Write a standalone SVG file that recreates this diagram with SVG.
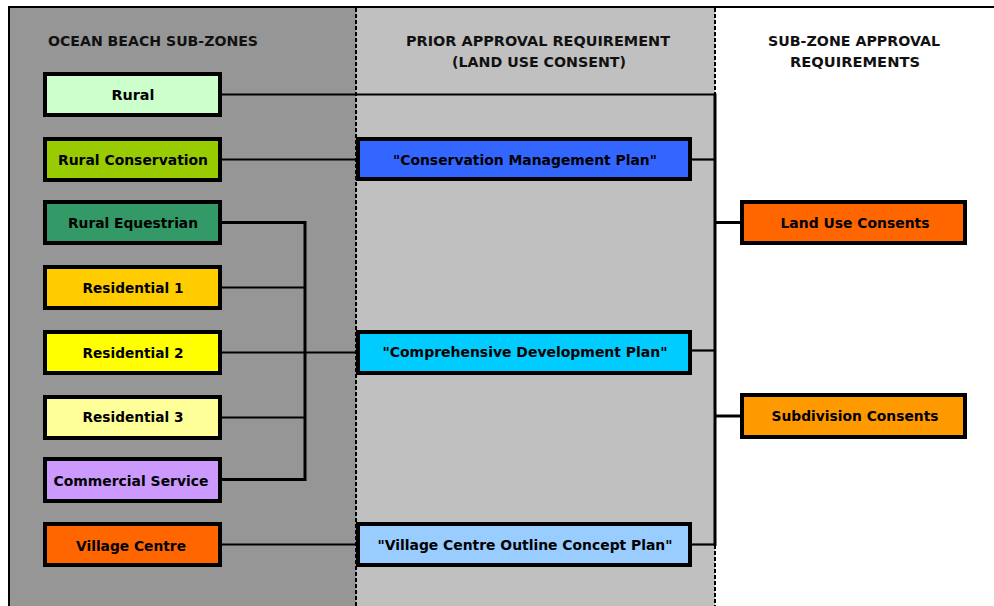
<svg xmlns="http://www.w3.org/2000/svg" width="994" height="606" viewBox="0 0 994 606">
  <style>
    .lbl { font-family: "DejaVu Sans", Verdana, sans-serif; font-weight: bold; font-size: 14.5px; fill: #000; text-anchor: middle; }
    .hdr { font-family: "DejaVu Sans", Verdana, sans-serif; font-weight: bold; font-size: 14px; fill: #111; text-anchor: middle; }
    .box { stroke: #000; stroke-width: 4; }
    .wire { fill: none; stroke: #000; stroke-width: 2.2; }
    .bus { fill: none; stroke: #000; stroke-width: 3; }
    .sep { fill: none; stroke: #000; stroke-width: 2; stroke-dasharray: 4 2; }
  </style>

  <!-- column backgrounds -->
  <rect x="0" y="0" width="994" height="606" fill="#ffffff"/>
  <rect x="9" y="7" width="347" height="599" fill="#969696"/>
  <rect x="356" y="7" width="359" height="599" fill="#c0c0c0"/>

  <!-- frame and column separators -->
  <g id="frame">
    <line x1="8" y1="7" x2="994" y2="7" stroke="#000" stroke-width="2"/>
    <line x1="9" y1="6" x2="9" y2="606" stroke="#000" stroke-width="2"/>
    <line class="sep" x1="356" y1="8" x2="356" y2="606"/>
    <line class="sep" x1="715" y1="8" x2="715" y2="94"/>
    <line class="sep" x1="715" y1="545" x2="715" y2="606"/>
  </g>

  <!-- column headings -->
  <g id="headings">
    <text class="hdr" x="153" y="45.5" textLength="210" lengthAdjust="spacingAndGlyphs">OCEAN BEACH SUB-ZONES</text>
    <text class="hdr" x="538" y="45.5" textLength="264" lengthAdjust="spacingAndGlyphs">PRIOR APPROVAL REQUIREMENT</text>
    <text class="hdr" x="539" y="66.5" textLength="174" lengthAdjust="spacingAndGlyphs">(LAND USE CONSENT)</text>
    <text class="hdr" x="854" y="45.5" textLength="172" lengthAdjust="spacingAndGlyphs">SUB-ZONE APPROVAL</text>
    <text class="hdr" x="855" y="66.5" textLength="130" lengthAdjust="spacingAndGlyphs">REQUIREMENTS</text>
  </g>

  <!-- connectors -->
  <g id="connectors">
    <!-- Rural straight through to the approvals bus -->
    <polyline class="wire" points="220,94.5 715,94.5"/>
    <!-- Rural Conservation -> Conservation Management Plan -->
    <polyline class="wire" points="220,159.5 358,159.5"/>
    <polyline class="wire" points="690,159.5 715,159.5"/>
    <!-- residential group bracket -->
    <polyline class="bus" points="220,222.5 305,222.5 305,479.5 220,479.5"/>
    <polyline class="wire" points="220,287.5 305,287.5"/>
    <polyline class="wire" points="220,352.5 358,352.5"/>
    <polyline class="wire" points="220,417.5 305,417.5"/>
    <polyline class="wire" points="690,350.5 715,350.5"/>
    <!-- Village Centre -> Outline Concept Plan -->
    <polyline class="wire" points="220,544.5 358,544.5"/>
    <polyline class="wire" points="690,544.5 715,544.5"/>
    <!-- approvals bus -->
    <polyline class="bus" points="715,93.5 715,546"/>
    <polyline class="bus" points="715,222.5 742,222.5"/>
    <polyline class="bus" points="715,416 742,416"/>
  </g>

  <!-- sub-zones -->
  <g id="rural"><rect class="box" x="45" y="74" width="175" height="41" fill="#ccffcc"/><text class="lbl" x="133" y="100" textLength="43" lengthAdjust="spacingAndGlyphs">Rural</text></g>
  <g id="rural-conservation"><rect class="box" x="45" y="139" width="175" height="41" fill="#99cc00"/><text class="lbl" x="133" y="164.5" textLength="150" lengthAdjust="spacingAndGlyphs">Rural Conservation</text></g>
  <g id="rural-equestrian"><rect class="box" x="45" y="202" width="175" height="41" fill="#339966"/><text class="lbl" x="133" y="228" textLength="130" lengthAdjust="spacingAndGlyphs">Rural Equestrian</text></g>
  <g id="residential-1"><rect class="box" x="45" y="267" width="175" height="41" fill="#ffcc00"/><text class="lbl" x="133" y="292.5" textLength="101" lengthAdjust="spacingAndGlyphs">Residential 1</text></g>
  <g id="residential-2"><rect class="box" x="45" y="332" width="175" height="41" fill="#ffff00"/><text class="lbl" x="133" y="357.5" textLength="101" lengthAdjust="spacingAndGlyphs">Residential 2</text></g>
  <g id="residential-3"><rect class="box" x="45" y="397" width="175" height="41" fill="#ffff99"/><text class="lbl" x="133" y="422" textLength="101" lengthAdjust="spacingAndGlyphs">Residential 3</text></g>
  <g id="commercial-service"><rect class="box" x="45" y="459" width="175" height="42" fill="#cc99ff"/><text class="lbl" x="131" y="485.5" textLength="155" lengthAdjust="spacingAndGlyphs">Commercial Service</text></g>
  <g id="village-centre"><rect class="box" x="45" y="524" width="175" height="41" fill="#ff6600"/><text class="lbl" x="131" y="550.5" textLength="110" lengthAdjust="spacingAndGlyphs">Village Centre</text></g>

  <!-- prior approval plans -->
  <g id="conservation-management-plan"><rect class="box" x="358" y="139" width="332" height="40" fill="#3366ff"/><text class="lbl" x="525" y="164.5" textLength="264" lengthAdjust="spacingAndGlyphs">"Conservation Management Plan"</text></g>
  <g id="comprehensive-development-plan"><rect class="box" x="358" y="332" width="332" height="41" fill="#00ccff"/><text class="lbl" x="525" y="356.5" textLength="285" lengthAdjust="spacingAndGlyphs">"Comprehensive Development Plan"</text></g>
  <g id="village-centre-outline-concept-plan"><rect class="box" x="358" y="524" width="332" height="41" fill="#99ccff"/><text class="lbl" x="525" y="549.5" textLength="295" lengthAdjust="spacingAndGlyphs">"Village Centre Outline Concept Plan"</text></g>

  <!-- sub-zone approval requirements -->
  <g id="land-use-consents"><rect class="box" x="742" y="202" width="223" height="41" fill="#ff6600"/><text class="lbl" x="855" y="227.5" textLength="149" lengthAdjust="spacingAndGlyphs">Land Use Consents</text></g>
  <g id="subdivision-consents"><rect class="box" x="742" y="395" width="223" height="42" fill="#ff9900"/><text class="lbl" x="855" y="421" textLength="167" lengthAdjust="spacingAndGlyphs">Subdivision Consents</text></g>
</svg>
